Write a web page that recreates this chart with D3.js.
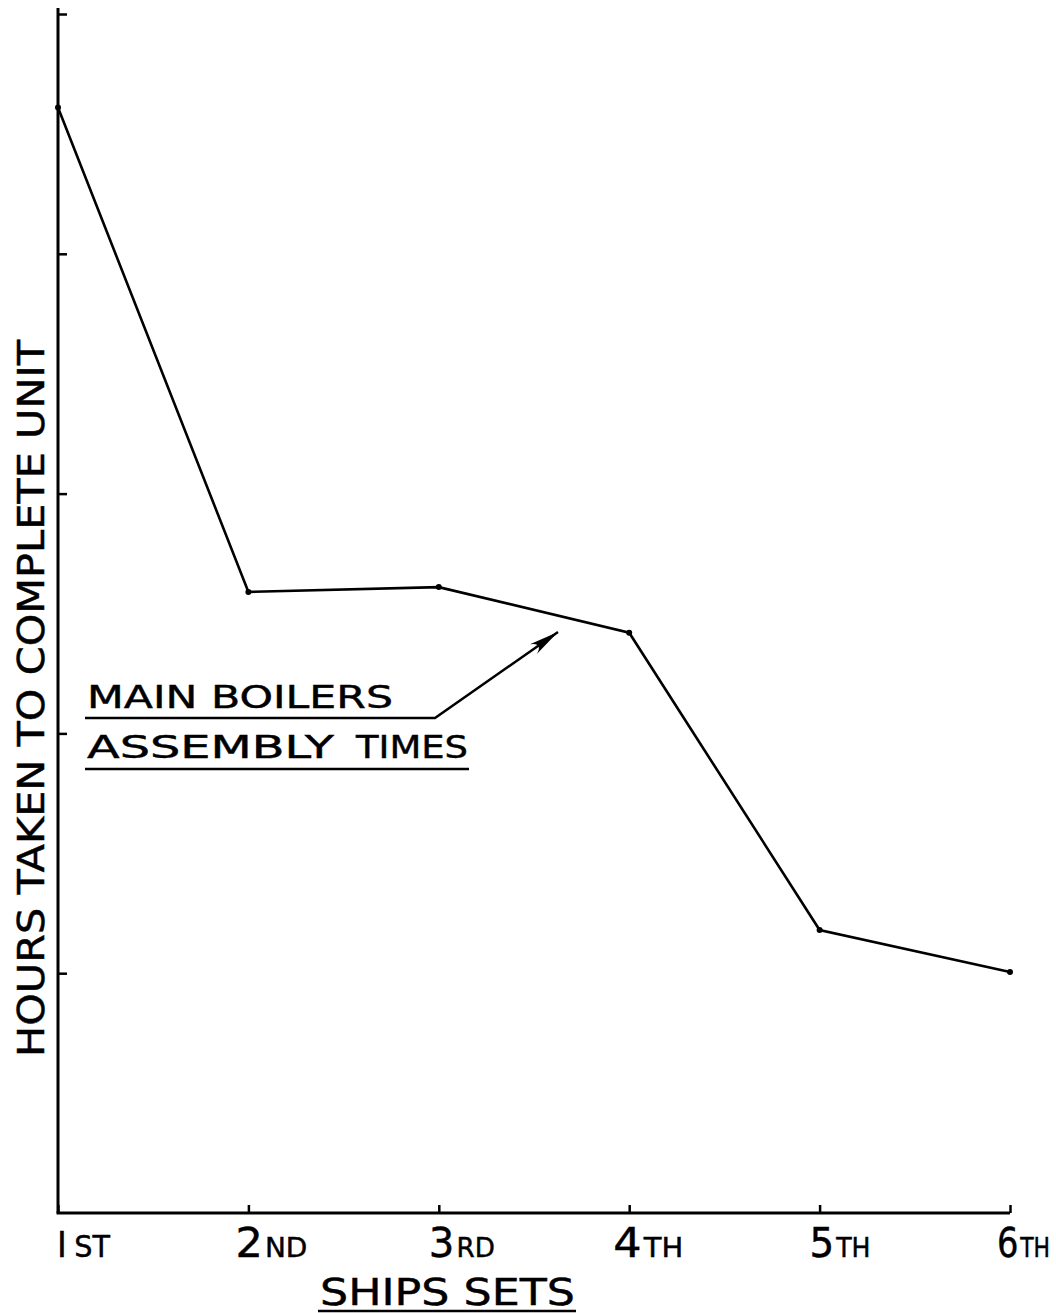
<!DOCTYPE html>
<html>
<head>
<meta charset="utf-8">
<script src="https://cdn.jsdelivr.net/npm/d3@7"></script>
<style>
  html, body { margin: 0; padding: 0; background: #fff; }
  svg { display: block; }
  text { font-family: "DejaVu Sans", "Liberation Sans", sans-serif; fill: #000; stroke: #000; stroke-width: 0.45; }
</style>
</head>
<body>
<script>
// ---- data ----
const categories = ["1ST", "2ND", "3RD", "4TH", "5TH", "6TH"];
const labelBig = ["I", "2", "3", "4", "5", "6"];
const labelSmall = ["ST", "ND", "RD", "TH", "TH", "TH"];
const hours = [4.61, 2.59, 2.61, 2.42, 1.18, 1.005]; // in (unlabelled) tick units
const yTicks = [1, 2, 3, 4, 5];
const yTitle = "HOURS TAKEN TO COMPLETE UNIT";
const xTitle = "SHIPS SETS";
const noteWords1 = ["MAIN BOILERS"];
const noteWords2 = ["ASSEMBLY", "TIMES"];

// ---- layout ----
const W = 1056, H = 1313;
const labelOffset = [-1, -13, -10, -16, -10, -13];
const labelWidth = [53, 72, 66, 70, 61, 53];

const svg = d3.select("body").append("svg").attr("width", W).attr("height", H);

const x = d3.scalePoint().domain(categories).range([58, 1010]);
const y = d3.scaleLinear().domain([0, 5]).range([1213, 14]);

// y axis (ticks pointing right)
const yAxis = d3.axisRight(y).tickValues(yTicks).tickSize(9).tickSizeOuter(0).tickFormat("");
const gy = svg.append("g").attr("transform", `translate(${x(categories[0])},0)`).call(yAxis);
gy.select(".domain").remove();
gy.selectAll(".tick line").attr("stroke", "#000").attr("stroke-width", 2.5);
svg.append("line")
  .attr("x1", x(categories[0])).attr("x2", x(categories[0]))
  .attr("y1", y(0)).attr("y2", 8)
  .attr("stroke", "#000").attr("stroke-width", 3);

// x axis (ticks pointing up)
const xAxis = d3.axisTop(x).tickSize(8).tickSizeOuter(0).tickFormat("");
const gx = svg.append("g").attr("transform", `translate(0,${y(0)})`).call(xAxis);
gx.select(".domain").remove();
gx.selectAll(".tick line").attr("stroke", "#000").attr("stroke-width", 2.5);
svg.append("line")
  .attr("x1", x(categories[0]) - 1.5).attr("x2", x(categories[categories.length - 1]))
  .attr("y1", y(0)).attr("y2", y(0))
  .attr("stroke", "#000").attr("stroke-width", 3);

// x tick labels
categories.forEach((c, i) => {
  const t = svg.append("text")
    .attr("x", x(c) + labelOffset[i])
    .attr("y", 1257)
    .attr("textLength", labelWidth[i]).attr("lengthAdjust", "spacingAndGlyphs");
  t.append("tspan").attr("font-size", i === 0 ? 36 : 40).text(labelBig[i]);
  t.append("tspan").attr("font-size", i === 0 ? 31 : 26).attr("dx", i === 0 ? 8 : 2).text(labelSmall[i]);
});

// x title
svg.append("text")
  .attr("x", 320).attr("y", 1305)
  .attr("font-size", 37)
  .attr("textLength", 255).attr("lengthAdjust", "spacingAndGlyphs")
  .text(xTitle);
svg.append("line").attr("x1", 318).attr("x2", 576).attr("y1", 1311).attr("y2", 1311)
  .attr("stroke", "#000").attr("stroke-width", 2.5);

// y title
svg.append("text")
  .attr("transform", "translate(44,1057) rotate(-90)")
  .attr("font-size", 37)
  .attr("textLength", 717).attr("lengthAdjust", "spacingAndGlyphs")
  .text(yTitle);

// data line
const line = d3.line().x((d, i) => x(categories[i])).y(d => y(d));
svg.append("path").datum(hours)
  .attr("d", line)
  .attr("fill", "none").attr("stroke", "#000").attr("stroke-width", 2.6)
  .attr("stroke-linejoin", "miter");
svg.selectAll("circle.pt").data(hours).enter().append("circle")
  .attr("class", "pt")
  .attr("cx", (d, i) => x(categories[i])).attr("cy", d => y(d))
  .attr("r", 3).attr("fill", "#000");

// annotation
svg.append("text").attr("x", 87).attr("y", 708).attr("font-size", 32)
  .attr("textLength", 306).attr("lengthAdjust", "spacingAndGlyphs").text(noteWords1[0]);
svg.append("text").attr("x", 87).attr("y", 758).attr("font-size", 32)
  .attr("textLength", 247).attr("lengthAdjust", "spacingAndGlyphs").text(noteWords2[0]);
svg.append("text").attr("x", 356).attr("y", 758).attr("font-size", 32)
  .attr("textLength", 112).attr("lengthAdjust", "spacingAndGlyphs").text(noteWords2[1]);
svg.append("line").attr("x1", 85).attr("x2", 469).attr("y1", 769).attr("y2", 769)
  .attr("stroke", "#000").attr("stroke-width", 2.5);

svg.append("defs").append("marker")
  .attr("id", "arrow").attr("viewBox", "0 0 30 14").attr("refX", 30).attr("refY", 7)
  .attr("markerWidth", 30).attr("markerHeight", 14).attr("markerUnits", "userSpaceOnUse")
  .attr("orient", "auto")
  .append("path").attr("d", "M0,1 Q12,7 0,13 L30,7 Z").attr("fill", "#000");

svg.append("path")
  .attr("d", "M85,718 L435,718 L558,632")
  .attr("fill", "none").attr("stroke", "#000").attr("stroke-width", 2.5)
  .attr("marker-end", "url(#arrow)");
</script>
</body>
</html>
